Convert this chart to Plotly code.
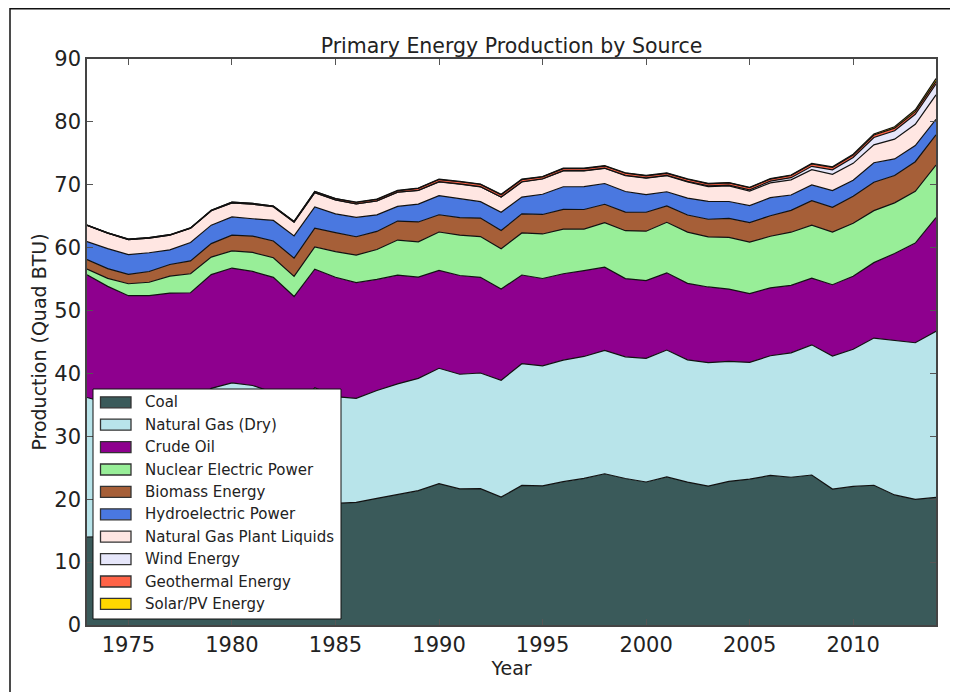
import plotly.graph_objects as go

years = list(range(1973, 2015))

coal = [13.99, 14.07, 14.99, 15.65, 15.76, 14.91, 17.54, 18.60, 18.38, 18.64,
        17.25, 19.72, 19.33, 19.51, 20.14, 20.74, 21.36, 22.49, 21.64, 21.69,
        20.34, 22.20, 22.13, 22.79, 23.31, 24.05, 23.30, 22.74, 23.55, 22.73,
        22.09, 22.85, 23.19, 23.79, 23.49, 23.85, 21.62, 22.04, 22.22, 20.68,
        19.99, 20.29]
natural_gas = [22.19, 21.21, 19.64, 19.48, 19.57, 19.49, 20.08, 19.91, 19.70, 18.32,
               16.59, 18.01, 16.98, 16.54, 17.14, 17.60, 17.85, 18.33, 18.23, 18.38,
               18.58, 19.35, 19.08, 19.34, 19.39, 19.61, 19.34, 19.66, 20.17, 19.44,
               19.63, 19.07, 18.56, 19.02, 19.79, 20.70, 21.14, 21.81, 23.41, 24.63,
               24.89, 26.40]
crude_oil = [19.49, 18.57, 17.73, 17.26, 17.45, 18.43, 18.10, 18.25, 18.15, 18.31,
             18.39, 18.85, 18.99, 18.38, 17.67, 17.28, 16.12, 15.57, 15.70, 15.22,
             14.49, 14.10, 13.89, 13.72, 13.66, 13.24, 12.45, 12.36, 12.28, 12.16,
             12.03, 11.50, 10.96, 10.80, 10.72, 10.61, 11.35, 11.59, 11.99, 13.76,
             15.84, 18.10]
nuclear = [0.91, 1.27, 1.90, 2.11, 2.70, 3.02, 2.78, 2.74, 3.01, 3.13,
           3.20, 3.55, 4.08, 4.38, 4.75, 5.59, 5.60, 6.10, 6.42, 6.48,
           6.41, 6.69, 7.08, 7.09, 6.60, 7.07, 7.61, 7.86, 8.03, 8.15,
           7.96, 8.22, 8.16, 8.21, 8.46, 8.43, 8.36, 8.43, 8.27, 8.06,
           8.24, 8.34]
biomass = [1.53, 1.54, 1.50, 1.71, 1.84, 2.04, 2.15, 2.48, 2.60, 2.66,
           2.90, 2.97, 3.02, 2.93, 2.88, 3.02, 3.16, 2.74, 2.78, 2.93,
           2.91, 3.03, 3.10, 3.16, 3.11, 2.93, 2.96, 3.01, 2.62, 2.71,
           2.81, 3.01, 3.11, 3.26, 3.47, 3.87, 3.95, 4.31, 4.51, 4.35,
           4.71, 4.82]
hydro = [2.86, 3.18, 3.15, 2.98, 2.33, 2.94, 2.93, 2.90, 2.76, 3.27,
         3.53, 3.39, 2.97, 3.07, 2.64, 2.33, 2.84, 3.05, 3.02, 2.62,
         2.89, 2.68, 3.21, 3.59, 3.64, 3.30, 3.27, 2.81, 2.24, 2.69,
         2.83, 2.69, 2.70, 2.87, 2.45, 2.51, 2.67, 2.54, 3.10, 2.63,
         2.56, 2.47]
ngpl = [2.57, 2.47, 2.37, 2.33, 2.33, 2.25, 2.29, 2.25, 2.31, 2.19,
        2.18, 2.27, 2.24, 2.15, 2.22, 2.26, 2.16, 2.18, 2.31, 2.36,
        2.41, 2.39, 2.44, 2.53, 2.50, 2.42, 2.53, 2.61, 2.55, 2.56,
        2.35, 2.47, 2.33, 2.36, 2.41, 2.42, 2.57, 2.69, 2.85, 3.14,
        3.38, 3.88]
wind = [0, 0, 0, 0, 0, 0, 0, 0, 0, 0,
        0, 0, 0, 0, 0, 0, 0.02, 0.03, 0.03, 0.03,
        0.03, 0.04, 0.03, 0.03, 0.03, 0.03, 0.05, 0.06, 0.07, 0.11,
        0.12, 0.14, 0.18, 0.26, 0.34, 0.55, 0.72, 0.92, 1.17, 1.34,
        1.60, 1.73]
geothermal = [0.04, 0.05, 0.07, 0.08, 0.08, 0.06, 0.08, 0.11, 0.12, 0.11,
              0.13, 0.17, 0.20, 0.22, 0.23, 0.22, 0.32, 0.34, 0.35, 0.35,
              0.36, 0.34, 0.29, 0.32, 0.33, 0.33, 0.33, 0.32, 0.31, 0.33,
              0.33, 0.34, 0.34, 0.34, 0.35, 0.36, 0.37, 0.39, 0.40, 0.41,
              0.41, 0.42]
solar = [0, 0, 0, 0, 0, 0, 0, 0, 0, 0,
         0, 0, 0, 0.06, 0.05, 0.06, 0.06, 0.06, 0.06, 0.06,
         0.07, 0.07, 0.07, 0.07, 0.07, 0.07, 0.07, 0.07, 0.06, 0.06,
         0.06, 0.06, 0.06, 0.07, 0.08, 0.09, 0.10, 0.13, 0.17, 0.23,
         0.31, 0.43]

series_names = ["Coal", "Natural Gas (Dry)", "Crude Oil", "Nuclear Electric Power",
                "Biomass Energy", "Hydroelectric Power", "Natural Gas Plant Liquids",
                "Wind Energy", "Geothermal Energy", "Solar/PV Energy"]
series_values = [coal, natural_gas, crude_oil, nuclear, biomass, hydro, ngpl,
                 wind, geothermal, solar]
series_colors = ["#3a5a5a", "#b8e4ea", "#8e008e", "#98ee98", "#a65f38",
                 "#4a78e0", "#ffe6e2", "#e6e6fa", "#ff6347", "#ffd700"]

x_tick_labels = ["1975", "1980", "1985", "1990", "1995", "2000", "2005", "2010"]
y_tick_labels = ["0", "10", "20", "30", "40", "50", "60", "70", "80", "90"]

FONT = "DejaVu Sans"
TEXT = "#222222"

fig = go.Figure()
for name, vals, col in zip(series_names, series_values, series_colors):
    fig.add_trace(go.Scatter(
        x=years, y=vals, name=name, mode="lines", stackgroup="one",
        line=dict(color="#111111", width=1.2), fillcolor=col,
        showlegend=False,
    ))

# Page layout (browser body has an 8px margin, figure is offset by it)
OFF = 8
L, R, T, B = 87, 936, 59, 625       # plot area in page pixels
W, H = R - L, B - T
FIG_W, FIG_H = 958 - OFF, 692 - OFF


def px_x(p):
    return (p - L) / W


def px_y(p):
    return (B - p) / H


shapes = []
annotations = []

# outer figure frame
shapes.append(dict(type="rect", xref="paper", yref="paper",
                   x0=px_x(10), x1=px_x(975), y0=px_y(710), y1=px_y(8.8),
                   line=dict(color="#111111", width=1.5),
                   fillcolor="rgba(0,0,0,0)", layer="below"))

# legend (box, swatches, labels)
LEG_X0, LEG_X1, LEG_Y0, LEG_Y1 = 93, 341, 389, 619
shapes.append(dict(type="rect", xref="paper", yref="paper",
                   x0=px_x(LEG_X0), x1=px_x(LEG_X1),
                   y0=px_y(LEG_Y1), y1=px_y(LEG_Y0),
                   line=dict(color="#111111", width=1), fillcolor="white",
                   layer="above"))
ROW0, STEP = 402.3, 22.4
for i, (name, col) in enumerate(zip(series_names, series_colors)):
    cy = ROW0 + i * STEP
    shapes.append(dict(type="rect", xref="paper", yref="paper",
                       x0=px_x(100.5), x1=px_x(131), y0=px_y(cy + 5.5), y1=px_y(cy - 5.5),
                       line=dict(color="#333333", width=1.3), fillcolor=col,
                       layer="above"))
    annotations.append(dict(text=name, xref="paper", yref="paper",
                            x=px_x(142.5), y=px_y(cy), xanchor="left", yanchor="middle",
                            showarrow=False,
                            font=dict(family=FONT, size=15, color=TEXT)))

fig.update_layout(
    width=FIG_W, height=FIG_H,
    margin=dict(l=L - OFF, r=FIG_W - (R - OFF), t=T - OFF, b=FIG_H - (B - OFF)),
    paper_bgcolor="white", plot_bgcolor="white",
    font=dict(family=FONT, size=21, color=TEXT),
    title=dict(text="Primary Energy Production by Source", xref="paper", x=0.5,
               xanchor="center", y=1 - (46 - OFF) / FIG_H, yanchor="middle",
               font=dict(family=FONT, size=20.5, color=TEXT)),
    showlegend=False,
    shapes=shapes,
    annotations=annotations,
    xaxis=dict(range=[1973, 2014], tickmode="array",
               tickvals=[int(t) for t in x_tick_labels], ticktext=x_tick_labels,
               tickfont=dict(size=21),
               ticks="inside", ticklen=6, tickcolor="#555555", tickwidth=1,
               showline=True, linecolor="#444444", linewidth=1.5, mirror="ticks",
               showgrid=False, zeroline=False,
               title=dict(text="Year", standoff=1, font=dict(size=19))),
    yaxis=dict(range=[0, 90], tickmode="array",
               tickvals=[int(t) for t in y_tick_labels], ticktext=y_tick_labels,
               tickfont=dict(size=21),
               ticks="inside", ticklen=6, tickcolor="#555555", tickwidth=1,
               showline=True, linecolor="#444444", linewidth=1.5, mirror="ticks",
               showgrid=False, zeroline=False,
               title=dict(text="Production (Quad BTU)", standoff=3, font=dict(size=19))),
)

fig.write_html("out.html")
